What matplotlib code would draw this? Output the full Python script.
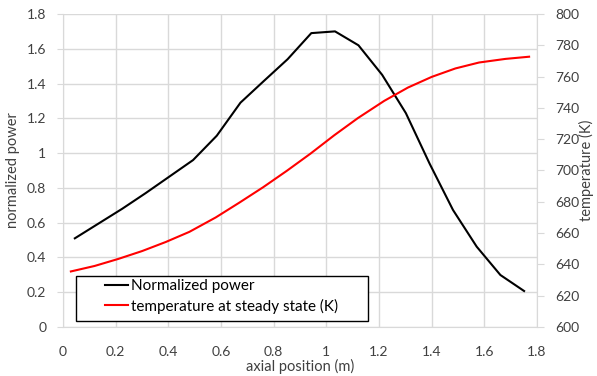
import numpy as np
import matplotlib
matplotlib.use("Agg")
import matplotlib.pyplot as plt
from matplotlib.patches import Rectangle

plt.rcParams['font.family'] = ['Lato', 'DejaVu Sans']

# axial positions (m) and normalized power
pos_power = [0.045, 0.135, 0.225, 0.314, 0.404, 0.494, 0.584, 0.674, 0.763, 0.853,
             0.943, 1.033, 1.122, 1.212, 1.302, 1.392, 1.481, 1.571, 1.661, 1.751]
power = [0.51, 0.595, 0.68, 0.77, 0.865, 0.96, 1.10, 1.29, 1.415, 1.54,
         1.69, 1.70, 1.62, 1.45, 1.23, 0.94, 0.673, 0.462, 0.299, 0.207]

# axial positions (m) and temperature at steady state (K)
pos_temp = [0.03, 0.12, 0.21, 0.30, 0.39, 0.48, 0.58, 0.67, 0.76, 0.85,
            0.94, 1.03, 1.12, 1.22, 1.31, 1.40, 1.49, 1.58, 1.68, 1.77]
temp = [635.5, 639.0, 643.5, 648.5, 654.3, 660.8, 670.0, 679.5, 689.3, 699.8,
        710.8, 722.5, 733.5, 744.5, 753.0, 759.8, 765.2, 769.0, 771.3, 772.7]

grid_c = '#d9d9d9'
txt_c = '#404040'

fig = plt.figure(figsize=(5.97, 3.76), dpi=100)
ax = fig.add_axes([0.1055, 0.1303, 0.794, 0.8325])
ax2 = ax.twinx()

l1, = ax.plot(pos_power, power, color='black', lw=1.5, label='Normalized power')
l2, = ax2.plot(pos_temp, temp, color='#ff0000', lw=1.5, label='temperature at steady state (K)')

ax.set_xlim(0, 1.8)
ax.set_ylim(0, 1.8)
ax2.set_ylim(600, 800)
ax.set_xticks(np.arange(0, 1.81, 0.2))
ax.set_yticks(np.arange(0, 1.81, 0.2))
ax2.set_yticks(np.arange(600, 801, 20))
ax.set_xticklabels(['0', '0.2', '0.4', '0.6', '0.8', '1', '1.2', '1.4', '1.6', '1.8'])
ax.set_yticklabels(['0', '0.2', '0.4', '0.6', '0.8', '1', '1.2', '1.4', '1.6', '1.8'])

ax.grid(True, color=grid_c, lw=1)
ax.set_axisbelow(True)

for a in (ax, ax2):
    for s in a.spines.values():
        s.set_color(grid_c)
    a.spines['top'].set_visible(False)
ax2.spines['left'].set_visible(False)
ax2.spines['bottom'].set_visible(False)
ax.spines['right'].set_visible(False)

ax.tick_params(axis='x', length=0, pad=14, labelsize=10, labelcolor=txt_c)
ax.tick_params(axis='y', length=4, color=grid_c, pad=8, labelsize=10, labelcolor=txt_c)
ax2.tick_params(axis='y', length=5, color=grid_c, pad=8, labelsize=10, labelcolor=txt_c)

ax.set_xlabel('axial position (m)', fontsize=10.5, color=txt_c, labelpad=0)
ax.set_ylabel('normalized power', fontsize=10.5, color=txt_c, labelpad=5)
ax2.set_ylabel('temperature (K)', fontsize=10.5, color=txt_c, labelpad=0)

# legend box drawn separately so the entries sit inside with Excel-like padding
box = Rectangle((0.0274, 0.0192), 0.616, 0.1438, transform=ax2.transAxes,
                facecolor='white', edgecolor='black', lw=1.0, zorder=4)
ax2.add_patch(box)
leg = ax2.legend(handles=[l1, l2], loc='upper left', bbox_to_anchor=(0.0886, 0.152),
                 borderaxespad=0, borderpad=0, fontsize=11, frameon=False,
                 handlelength=1.5, handletextpad=0.2, labelspacing=0.35)
leg.set_zorder(5)
for t in leg.get_texts():
    t.set_color('black')

fig.savefig('out.png', dpi=100)
